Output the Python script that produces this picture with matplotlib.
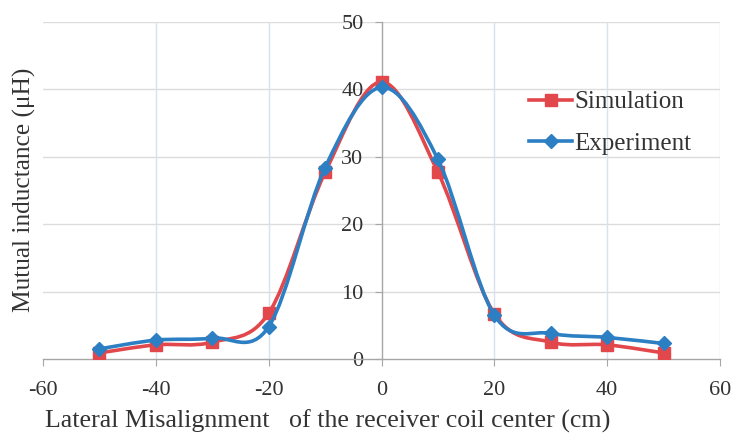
import numpy as np
import matplotlib
matplotlib.use('Agg')
import matplotlib.pyplot as plt
from matplotlib.path import Path
from matplotlib.patches import PathPatch
from matplotlib.lines import Line2D

plt.rcParams['font.family'] = ['Liberation Serif', 'DejaVu Serif']
plt.rcParams['axes.unicode_minus'] = False

# lateral offset (cm)
offset = [-50, -40, -30, -20, -10, 0, 10, 20, 30, 40, 50]
# mutual inductance (uH)
simulation = [0.9, 2.1, 2.5, 6.8, 27.7, 41.1, 27.7, 6.7, 2.5, 2.1, 0.9]
experiment = [1.5, 2.8, 3.1, 4.8, 28.4, 40.3, 29.6, 6.5, 3.8, 3.2, 2.3]

red = '#E2474C'
blue = '#2C7FC3'
txt = '#333333'


def smooth_path(x, y):
    # excel-like smoothed line: catmull-rom turned into cubic bezier segments
    x = np.asarray(x, float)
    y = np.asarray(y, float)
    n = len(x)
    verts = [(x[0], y[0])]
    codes = [Path.MOVETO]
    for i in range(n - 1):
        i0 = max(i - 1, 0)
        i3 = min(i + 2, n - 1)
        c1 = (x[i] + (x[i + 1] - x[i0]) / 6, y[i] + (y[i + 1] - y[i0]) / 6)
        c2 = (x[i + 1] - (x[i3] - x[i]) / 6, y[i + 1] - (y[i3] - y[i]) / 6)
        verts += [c1, c2, (x[i + 1], y[i + 1])]
        codes += [Path.CURVE4] * 3
    return Path(verts, codes)


fig = plt.figure(figsize=(7.34, 4.37), dpi=100)
ax = fig.add_axes([0.0586, 0.1785, 0.9224, 0.7712])
ax.set_xlim(-60, 60)
ax.set_ylim(0, 50)

for yv in [10, 20, 30, 40, 50]:
    ax.axhline(yv, color='#DCDCDC', lw=1.0, zorder=0)
for xv in [-40, -20, 20, 40, 60]:
    ax.axvline(xv, color='#D6E2F0', lw=1.0, zorder=0)

ax.add_patch(PathPatch(smooth_path(offset, simulation), fc='none', ec=red, lw=2.6, zorder=3))
ax.plot(offset, simulation, ls='none', marker='s', ms=8.5, color=red, zorder=4)
ax.add_patch(PathPatch(smooth_path(offset, experiment), fc='none', ec=blue, lw=2.6, zorder=5))
ax.plot(offset, experiment, ls='none', marker='D', ms=7, color=blue, zorder=6)

for s in ['top', 'right']:
    ax.spines[s].set_visible(False)
ax.spines['left'].set_position(('data', 0))
ax.spines['left'].set_color('#A6A6A6')
ax.spines['bottom'].set_color('#A6A6A6')
ax.spines['left'].set_linewidth(1.0)
ax.spines['bottom'].set_linewidth(1.0)

ax.set_xticks(range(-60, 61, 20))
ax.set_yticks(range(0, 51, 10))
ax.tick_params(axis='both', colors='#A6A6A6', labelcolor=txt, labelsize=16, length=5)
ax.tick_params(axis='x', pad=11)
ax.tick_params(axis='y', pad=8)

handles = [Line2D([], [], color=red, lw=2.6, marker='s', ms=8.5),
           Line2D([], [], color=blue, lw=2.6, marker='D', ms=7)]
ax.legend(handles, ['Simulation', 'Experiment'], loc='upper left',
          bbox_to_anchor=(0.685, 0.862), frameon=False, fontsize=18,
          handlelength=1.7, handletextpad=0.1, labelspacing=0.75,
          labelcolor=txt)

fig.text(0.033, 0.565, 'Mutual inductance (\u03bcH)', rotation=90,
         ha='center', va='center', fontsize=18.3, color=txt)
fig.text(0.061, 0.036, 'Lateral Misalignment   of the receiver coil center (cm)',
         ha='left', va='center', fontsize=18.7, color=txt)

fig.savefig('out.png', dpi=100)
